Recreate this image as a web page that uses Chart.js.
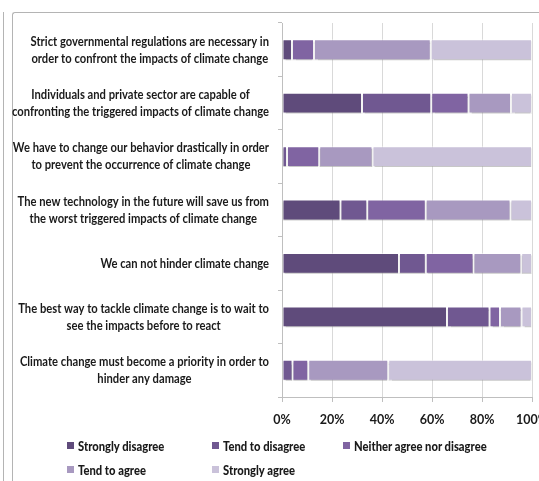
<!DOCTYPE html>
<html>
<head>
<meta charset="utf-8">
<script src="https://cdn.jsdelivr.net/npm/chart.js@4.4.1/dist/chart.umd.min.js"></script>
<style>
  html, body { margin: 0; padding: 0; background: #fff; overflow: hidden; width: 539px; height: 481px; }
  #wrap { position: relative; width: 560px; height: 481px; }
  #frame { position: absolute; left: 12px; top: 12px; width: 600px; height: 520px;
           border-left: 1px solid #b4b4b4; border-top: 1px solid #b4b4b4; border-top-left-radius: 3px; }
  #side { position: absolute; left: 3px; top: 12px; height: 480px; border-left: 1px solid #b4b4b4; }
  #legend { position: absolute; left: 67px; top: 437px; display: grid;
            grid-template-columns: 145px 131px auto; row-gap: 7px;
            font: bold 13.5px Lato, sans-serif; color: #1a1a1a; }
  #legend span.item { display: flex; align-items: center; height: 17px; white-space: nowrap; }
  #legend i { display: inline-block; width: 7px; height: 7px; margin-right: 4px; flex: none; }
  #legend b { display: inline-block; transform-origin: left center; }
  canvas { position: absolute; left: 0; top: 0; }
</style>
</head>
<body>
<div id="wrap">
  <div id="side"></div>
  <div id="frame"></div>
  <canvas id="chart" width="560" height="481"></canvas>
  <div id="legend"></div>
</div>
<script>
// statements, top to bottom
const categories = [
    ['Strict governmental regulations are necessary in', 'order to confront the impacts of climate change'],
    ['Individuals and private sector are capable of', 'confronting the triggered impacts of climate change'],
    ['We have to change our behavior drastically in order', 'to prevent the occurrence of climate change'],
    ['The new technology in the future will save us from', 'the worst triggered impacts of climate change'],
    ['We can not hinder climate change'],
    ['The best way to tackle climate change is to wait to', 'see the impacts before to react'],
    ['Climate change must become a priority in order to', 'hinder any damage']
];

const seriesNames = ['Strongly disagree', 'Tend to disagree', 'Neither agree nor disagree', 'Tend to agree', 'Strongly agree'];
const seriesColors = ['#5f4b7b', '#705891', '#8064a2', '#a899c0', '#cac2da'];

// percentages
const stronglyDisagree = [4, 32, 0, 23.4, 46.8, 66, 0];
const tendToDisagree = [0, 27.7, 2, 10.7, 10.7, 17, 4.2];
const neitherAgree = [8.8, 14.9, 12.9, 23.4, 19.1, 4.2, 6.3];
const tendToAgree = [46.7, 17, 21.3, 33.9, 19.1, 8.6, 32];
const stronglyAgree = [40.5, 8.4, 63.8, 8.6, 4.3, 4.2, 57.5];

const xTicks = [0, 20, 40, 60, 80, 100];

const seriesData = [stronglyDisagree, tendToDisagree, neitherAgree, tendToAgree, stronglyAgree];

const FONT = 'Lato, sans-serif';
const LABEL_FONT = 'bold 13.5px ' + FONT;

// the original uses a narrow font; squeeze ours so the widest line fits the same room
const measurer = document.createElement('canvas').getContext('2d');
measurer.font = LABEL_FONT;
const widest = Math.max(...categories.flat().map(l => measurer.measureText(l).width));
const squeeze = 257 / widest;

// category labels: each block right-aligned to the axis, lines centred inside the block
const blockLabels = {
    id: 'blockLabels',
    afterDraw(chart) {
        const ctx = chart.ctx;
        const y = chart.scales.y;
        const right = chart.chartArea.left - 13;
        const lineH = 17;
        ctx.save();
        ctx.font = LABEL_FONT;
        ctx.fillStyle = '#1a1a1a';
        ctx.textAlign = 'center';
        ctx.textBaseline = 'middle';
        categories.forEach((lines, i) => {
            const cy = y.getPixelForValue(i);
            const w = Math.max(...lines.map(l => ctx.measureText(l).width)) * squeeze;
            const cx = right - w / 2;
            const y0 = cy - (lines.length - 1) * lineH / 2;
            lines.forEach((l, k) => {
                ctx.save();
                ctx.translate(cx, y0 + k * lineH);
                ctx.scale(squeeze, 1);
                ctx.fillText(l, 0, 0);
                ctx.restore();
            });
        });
        ctx.restore();
    }
};

// thin drop shadow under the bars
const barShadow = {
    id: 'barShadow',
    beforeDatasetsDraw(chart) {
        const ctx = chart.ctx;
        ctx.save();
        ctx.shadowColor = 'rgba(0,0,0,0.22)';
        ctx.shadowOffsetY = 2;
        ctx.shadowBlur = 1;
    },
    afterDatasetsDraw(chart) {
        chart.ctx.restore();
    }
};

const ctx = document.getElementById('chart').getContext('2d');
new Chart(ctx, {
    type: 'bar',
    data: {
        labels: categories.map(c => c.join(' ')),
        datasets: seriesNames.map((name, i) => ({
            label: name,
            data: seriesData[i],
            backgroundColor: seriesColors[i],
            borderColor: 'rgba(255,255,255,0.55)',
            borderWidth: 1,
            borderSkipped: false,
            categoryPercentage: 1,
            barPercentage: 0.39
        }))
    },
    options: {
        indexAxis: 'y',
        responsive: false,
        animation: false,
        layout: { padding: { left: 12, top: 23, right: 28, bottom: 51 } },
        plugins: {
            legend: { display: false },
            tooltip: { enabled: false }
        },
        scales: {
            x: {
                stacked: true,
                min: 0,
                max: 100,
                afterBuildTicks: (axis) => { axis.ticks = xTicks.map(v => ({ value: v })); },
                afterFit: (axis) => { axis.height = 33; },
                grid: { color: '#d9d9d9', tickLength: 5, tickColor: '#bfbfbf' },
                border: { color: '#bfbfbf' },
                ticks: {
                    padding: 10,
                    color: '#1a1a1a',
                    font: { family: FONT, size: 12.5, weight: 'bold' },
                    maxRotation: 0,
                    callback: (v) => v + '%'
                }
            },
            y: {
                stacked: true,
                afterFit: (axis) => { axis.width = 270; },
                grid: { display: true, drawOnChartArea: false, offset: true, tickLength: 4, tickColor: '#bfbfbf' },
                border: { color: '#bfbfbf' },
                ticks: { display: false }
            }
        }
    },
    plugins: [barShadow, blockLabels]
});

// legend as a small grid, like the original
const legend = document.getElementById('legend');
seriesNames.forEach((name, i) => {
    const item = document.createElement('span');
    item.className = 'item';
    const sw = document.createElement('i');
    sw.style.background = seriesColors[i];
    const txt = document.createElement('b');
    txt.textContent = name;
    txt.style.transform = 'scaleX(' + squeeze.toFixed(3) + ')';
    item.appendChild(sw);
    item.appendChild(txt);
    legend.appendChild(item);
});
</script>
</body>
</html>
